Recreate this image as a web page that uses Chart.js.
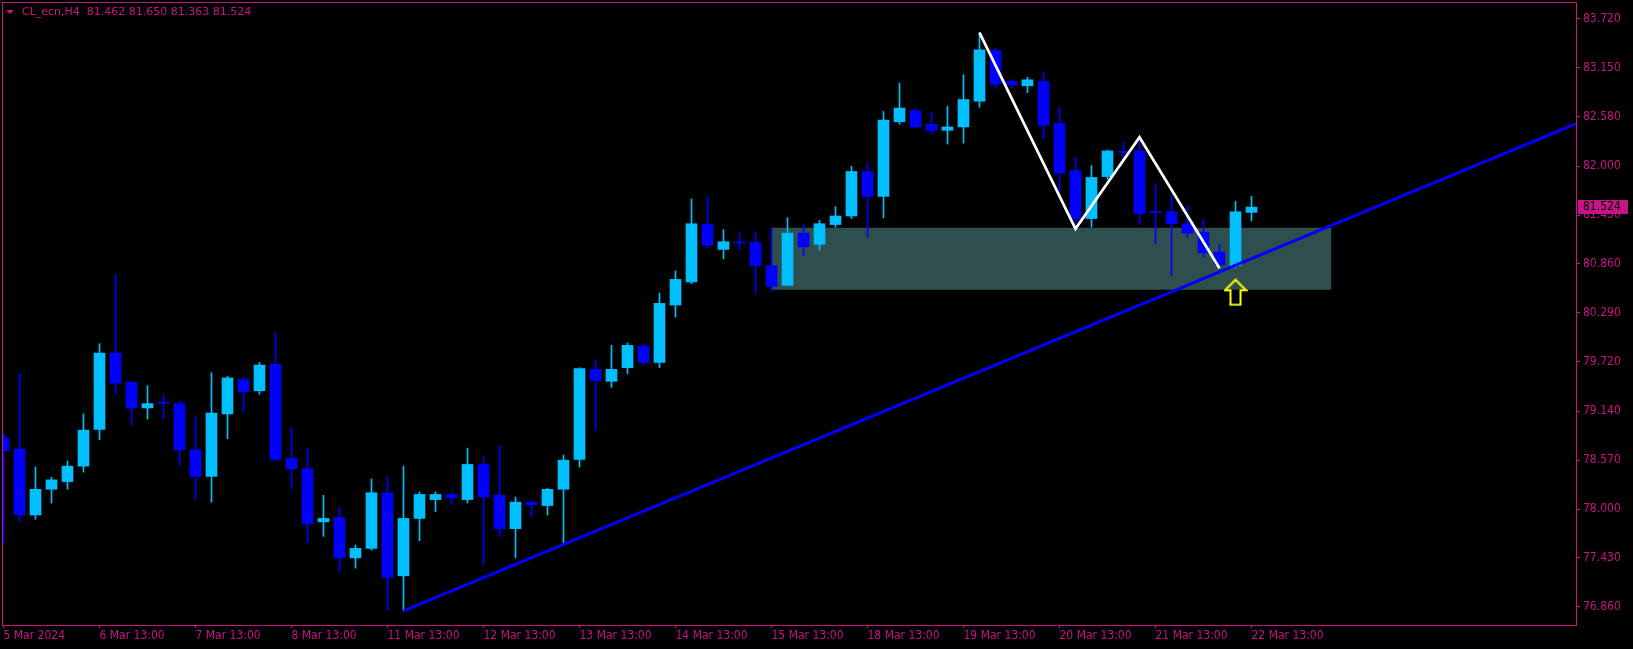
<!DOCTYPE html>
<html>
<head>
<meta charset="utf-8">
<title>CL_ecn,H4</title>
<script src="https://cdn.jsdelivr.net/npm/chart.js@4.4.1/dist/chart.umd.min.js"></script>
<style>
    html, body { margin: 0; padding: 0; background: #000; }
    #wrap { position: relative; width: 1633px; height: 649px; overflow: hidden; }
    #title {
        position: absolute; left: 22px; top: 5px;
        color: #C71585; white-space: pre;
        font: 11px/14px "DejaVu Sans", sans-serif;
    }
    #title .tri {
        position: absolute; left: -16px; top: 5px; width: 0; height: 0;
        border-left: 4.5px solid transparent; border-right: 4.5px solid transparent;
        border-top: 4px solid #C71585;
    }
</style>
</head>
<body>
<div id="wrap">
    <canvas id="chart" width="1633" height="649"></canvas>
    <div id="title"><span class="tri"></span>CL_ecn,H4  81.462 81.650 81.363 81.524</div>
</div>
<script>
// H4 bars, 5 Mar 2024 -> 22 Mar 2024 (bar index = position on the x axis)
const candleOpen = [
    78.83, 78.70, 77.93, 78.23, 78.32, 78.50, 78.93, 79.82, 79.48, 79.18,
    79.245, 79.23, 78.69, 78.38, 79.11, 79.51, 79.38, 79.69, 78.59, 78.47,
    77.85, 77.90, 77.43, 77.54, 78.19, 77.22, 77.89, 78.11, 78.17, 78.11,
    78.52, 78.16, 77.77, 78.08, 78.04, 78.23, 78.58, 79.63, 79.49, 79.65,
    79.90, 79.71, 80.38, 80.65, 81.32, 81.03, 81.118, 81.11, 80.84, 80.61,
    81.22, 81.09, 81.32, 81.42, 81.94, 81.65, 82.52, 82.65, 82.49, 82.42,
    82.46, 82.76, 83.35, 82.99, 82.94, 82.99, 82.50, 81.95, 81.39, 81.88,
    82.172, 82.18, 81.47, 81.47, 81.33, 81.23, 81.00, 80.84, 81.462
];
const candleHigh = [
    78.88, 79.58, 78.49, 78.37, 78.56, 79.11, 79.93, 80.74, 79.49, 79.44,
    79.34, 79.26, 79.07, 79.59, 79.55, 79.54, 79.71, 80.06, 78.95, 78.71,
    78.16, 78.02, 77.58, 78.35, 78.38, 78.50, 78.20, 78.20, 78.19, 78.71,
    78.61, 78.74, 78.14, 78.10, 78.24, 78.63, 79.65, 79.74, 79.91, 79.94,
    79.92, 80.52, 80.78, 81.62, 81.64, 81.26, 81.22, 81.23, 81.28, 81.40,
    81.32, 81.37, 81.53, 82.00, 82.04, 82.64, 82.97, 82.68, 82.63, 82.70,
    83.07, 83.56, 83.38, 83.01, 83.04, 83.10, 82.69, 82.11, 82.01, 82.19,
    82.28, 82.34, 81.80, 81.65, 81.54, 81.38, 81.09, 81.59, 81.650
];
const candleLow = [
    77.61, 77.85, 77.88, 78.07, 78.23, 78.43, 78.81, 79.35, 78.98, 79.05,
    79.05, 78.51, 78.11, 78.08, 78.82, 79.14, 79.34, 78.56, 78.24, 77.61,
    77.68, 77.27, 77.31, 77.52, 76.82, 76.81, 77.63, 77.97, 78.05, 78.07,
    77.35, 77.68, 77.43, 77.91, 77.93, 77.60, 78.49, 78.92, 79.42, 79.58,
    79.68, 79.65, 80.24, 80.63, 81.04, 80.92, 81.02, 80.51, 80.54, 80.61,
    80.96, 81.02, 81.29, 81.39, 81.17, 81.40, 82.49, 82.45, 82.38, 82.26,
    82.27, 82.69, 82.91, 82.92, 82.86, 82.32, 81.69, 81.28, 81.29, 81.85,
    82.09, 81.32, 81.09, 80.72, 81.17, 80.94, 80.82, 80.82, 81.363
];
const candleClose = [
    78.68, 77.93, 78.23, 78.34, 78.50, 78.92, 79.82, 79.47, 79.18, 79.23,
    79.235, 78.69, 78.38, 79.12, 79.53, 79.37, 79.68, 78.58, 78.47, 77.83,
    77.89, 77.43, 77.54, 78.19, 77.20, 77.89, 78.17, 78.17, 78.13, 78.52,
    78.14, 77.77, 78.08, 78.05, 78.23, 78.57, 79.64, 79.50, 79.63, 79.91,
    79.71, 80.40, 80.68, 81.33, 81.08, 81.12, 81.108, 80.84, 80.60, 81.22,
    81.06, 81.33, 81.42, 81.94, 81.65, 82.54, 82.68, 82.46, 82.42, 82.46,
    82.78, 83.36, 82.96, 82.95, 83.01, 82.48, 81.92, 81.39, 81.87, 82.18,
    82.164, 81.45, 81.46, 81.33, 81.22, 80.99, 80.85, 81.47, 81.524
];

const timeTickBars = [0, 6, 12, 18, 24, 30, 36, 42, 48, 54, 60, 66, 72, 78];
const timeTickLabels = [
    '5 Mar 2024', '6 Mar 13:00', '7 Mar 13:00', '8 Mar 13:00', '11 Mar 13:00',
    '12 Mar 13:00', '13 Mar 13:00', '14 Mar 13:00', '15 Mar 13:00', '18 Mar 13:00',
    '19 Mar 13:00', '20 Mar 13:00', '21 Mar 13:00', '22 Mar 13:00'
];
const priceTicks = [83.720, 83.150, 82.580, 82.000, 81.430, 80.860, 80.290,
    79.720, 79.140, 78.570, 78.000, 77.430, 76.860];

// drawn objects
const zoneBars = [48, 83];
const zonePrices = [81.284, 80.560];          // top, bottom
const trendBars = [25, 98.34];
const trendPrices = [76.81, 82.50];
const zigzagBars = [61, 67, 71, 76];
const zigzagPrices = [83.56, 81.27, 82.34, 80.81];
const arrowBars = [77];
const arrowPrices = [80.53];

const BULL = '#00BFFF';
const BEAR = '#0000FF';
const AXIS = '#C71585';
const FONT = '"DejaVu Sans Condensed", "DejaVu Sans", sans-serif';

function candleColors() {
    return candleClose.map((c, i) => c >= candleOpen[i] ? BULL : BEAR);
}

function makeArrowImage() {
    const cv = document.createElement('canvas');
    cv.width = 24;
    cv.height = 28;
    const a = cv.getContext('2d');
    a.strokeStyle = '#FFFF00';
    a.lineWidth = 2;
    a.beginPath();
    a.moveTo(12, 1.5);
    a.lineTo(22.5, 12);
    a.lineTo(17, 12);
    a.lineTo(17, 26.5);
    a.lineTo(7, 26.5);
    a.lineTo(7, 12);
    a.lineTo(1.5, 12);
    a.closePath();
    a.stroke();
    return cv;
}

// frame around the plot and the last price marker on the price scale
const framePlugin = {
    id: 'frame',
    afterDraw(chart) {
        const { ctx, chartArea: a, scales } = chart;
        ctx.save();
        ctx.strokeStyle = AXIS;
        ctx.lineWidth = 1;
        ctx.strokeRect(a.left + 0.5, a.top + 0.5, a.right - a.left - 1, a.bottom - a.top);

        const last = candleClose[candleClose.length - 1];
        const y = Math.round(scales.y.getPixelForValue(last));
        ctx.fillStyle = AXIS;
        ctx.fillRect(a.right + 1, y - 7, 50, 14);
        ctx.fillStyle = '#000';
        ctx.font = '12px ' + FONT;
        ctx.textBaseline = 'middle';
        ctx.fillText(last.toFixed(3), a.right + 6, y);
        ctx.restore();
    }
};

function renderChart() {
    const colors = candleColors();
    const ctx = document.getElementById('chart').getContext('2d');

    new Chart(ctx, {
        type: 'bar',
        data: {
            datasets: [{
                type: 'line',
                label: 'zone',
                data: zoneBars.map(b => ({ x: b, y: zonePrices[0] })),
                borderColor: 'rgba(0,0,0,0)',
                borderWidth: 0,
                backgroundColor: '#2F4F4F',
                fill: { value: zonePrices[1] },
                pointRadius: 0,
                order: 6
            }, {
                label: 'wicks',
                data: candleHigh.map((h, i) => ({ x: i, y: [candleLow[i], h] })),
                backgroundColor: colors,
                barThickness: 1,
                grouped: false,
                order: 5
            }, {
                label: 'bodies',
                data: candleOpen.map((o, i) => ({ x: i, y: [o, candleClose[i]] })),
                backgroundColor: colors,
                barThickness: 11,
                minBarLength: 1,
                grouped: false,
                order: 4
            }, {
                type: 'line',
                label: 'trend',
                data: trendBars.map((b, i) => ({ x: b, y: trendPrices[i] })),
                borderColor: '#0000FF',
                borderWidth: 3,
                pointRadius: 0,
                fill: false,
                order: 3
            }, {
                type: 'line',
                label: 'zigzag',
                data: zigzagBars.map((b, i) => ({ x: b, y: zigzagPrices[i] })),
                borderColor: '#FFFFFF',
                borderWidth: 2.7,
                pointRadius: 0,
                fill: false,
                order: 2
            }, {
                type: 'line',
                label: 'arrow',
                data: arrowBars.map((b, i) => ({ x: b, y: arrowPrices[i] })),
                showLine: false,
                pointStyle: makeArrowImage(),
                order: 1
            }]
        },
        options: {
            responsive: false,
            animation: false,
            events: [],
            layout: { autoPadding: false, padding: { left: 2, top: 2, right: 0, bottom: 0 } },
            plugins: {
                legend: { display: false },
                tooltip: { enabled: false }
            },
            scales: {
                x: {
                    type: 'linear',
                    min: -0.09375,
                    max: 98.34375,
                    offset: false,
                    grid: { offset: false, drawOnChartArea: false, color: AXIS, tickLength: 3 },
                    border: { display: false },
                    afterBuildTicks: axis => { axis.ticks = timeTickBars.map(v => ({ value: v })); },
                    afterFit: axis => {
                        axis.height = 24;
                        axis.paddingLeft = 0;
                        axis.paddingRight = 0;
                    },
                    ticks: {
                        autoSkip: false,
                        maxRotation: 0,
                        align: 'start',
                        padding: 1,
                        color: AXIS,
                        font: { family: FONT, size: 12 },
                        callback: v => timeTickLabels[timeTickBars.indexOf(v)]
                    }
                },
                y: {
                    type: 'linear',
                    position: 'right',
                    min: 76.646,
                    max: 83.918,
                    beginAtZero: false,
                    grid: { drawOnChartArea: false, color: AXIS, tickLength: 3 },
                    border: { display: false },
                    afterBuildTicks: axis => { axis.ticks = priceTicks.map(v => ({ value: v })); },
                    afterFit: axis => {
                        axis.width = 56;
                        axis.paddingTop = 0;
                        axis.paddingBottom = 0;
                    },
                    ticks: {
                        padding: 3,
                        color: AXIS,
                        font: { family: FONT, size: 12 },
                        callback: v => Number(v).toFixed(3)
                    }
                }
            }
        },
        plugins: [framePlugin]
    });
}

document.addEventListener('DOMContentLoaded', () => {
    renderChart();
});
</script>
</body>
</html>
